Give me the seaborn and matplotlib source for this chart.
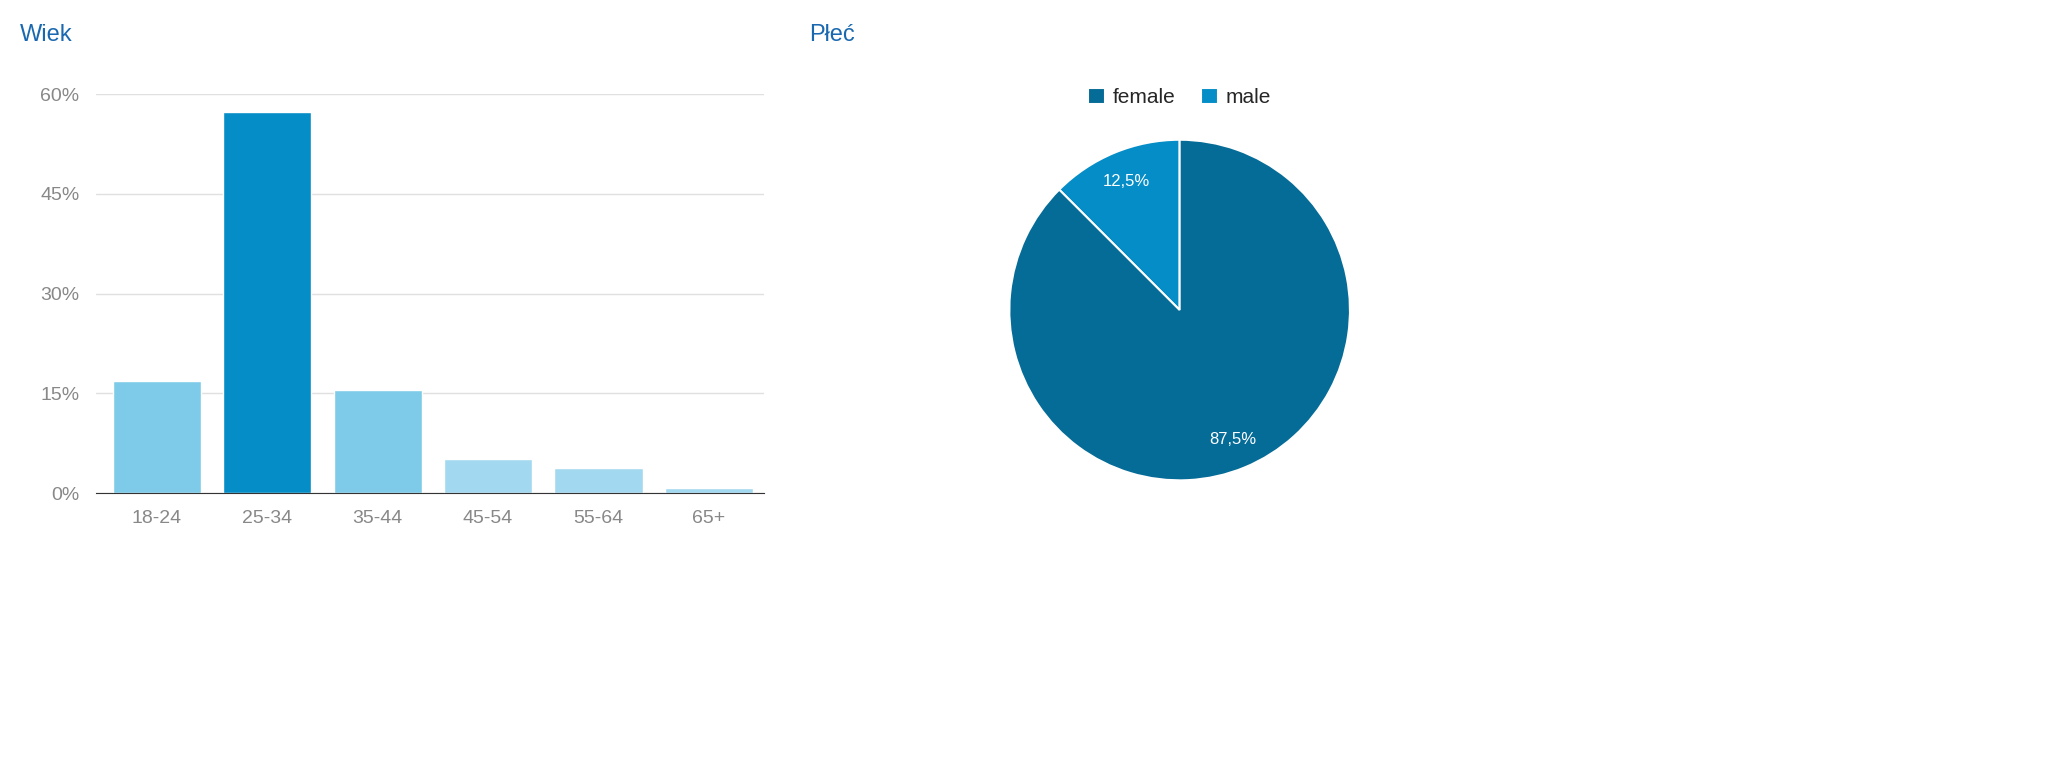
import matplotlib
matplotlib.use('Agg')
import matplotlib.pyplot as plt
import seaborn as sns
from matplotlib.ticker import FuncFormatter

age_groups = ['18-24', '25-34', '35-44', '45-54', '55-64', '65+']
age_share = [16.8, 57.4, 15.5, 5.1, 3.8, 0.75]
age_colors = ['#7ecbe9', '#058dc7', '#7ecbe9', '#a2d9f0', '#a2d9f0', '#a2d9f0']

gender_labels = ['male', 'female']
gender_share = [12.5, 87.5]
gender_colors = ['#058dc7', '#056b97']

sns.set_style('white')
plt.rcParams['font.family'] = ['Liberation Sans', 'DejaVu Sans']

fig = plt.figure(figsize=(20.48, 7.79), dpi=100)

# bar chart - age
ax = fig.add_axes([0.047, 0.367, 0.326, 0.512])
sns.barplot(x=age_groups, y=age_share, hue=age_groups, palette=age_colors,
            legend=False, ax=ax, width=0.8, saturation=1)
ax.set_ylim(0, 60)
ax.set_yticks([0, 15, 30, 45, 60])
ax.yaxis.set_major_formatter(FuncFormatter(lambda v, p: f'{int(v)}%'))
ax.grid(axis='y', color='#e0e0e0', linewidth=1)
ax.set_axisbelow(True)
for s in ['top', 'right', 'left']:
    ax.spines[s].set_visible(False)
ax.spines['bottom'].set_color('#333333')
ax.tick_params(axis='both', length=0, labelsize=14, colors='#888888', pad=12)
ax.set_xlim(-0.55, 5.5)
fig.text(0.0098, 0.955, 'Wiek', fontsize=17, color='#1a69b0', va='center')

# pie chart - gender
pax = fig.add_axes([0.576 - 0.084, 0.602 - 0.2208, 0.168, 0.4416])
wedges, _, autotexts = pax.pie(gender_share, colors=gender_colors, startangle=90,
                               autopct=lambda p: f'{p:.1f}%'.replace('.', ','),
                               pctdistance=0.82, wedgeprops=dict(edgecolor='white', linewidth=1.5),
                               textprops=dict(color='white', fontsize=12))
pax.set_aspect('auto')
pax.set_xlim(-1.01, 1.01)
pax.set_ylim(-1.01, 1.01)
fig.text(0.395, 0.955, 'Płeć', fontsize=17, color='#1a69b0', va='center')
fig.legend([wedges[1], wedges[0]], ['female', 'male'], loc='center',
           bbox_to_anchor=(0.576, 0.875), ncol=2, frameon=False, fontsize=15,
           handlelength=0.8, handleheight=0.8, columnspacing=1.2, handletextpad=0.4)

fig.savefig('out.png', dpi=100)
